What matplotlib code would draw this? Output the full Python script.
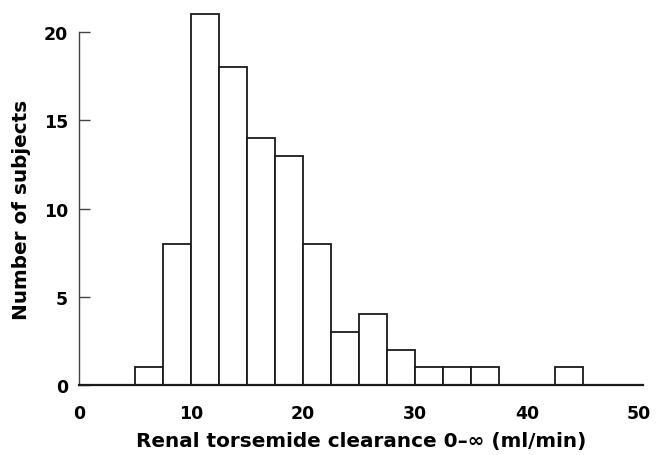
import matplotlib
matplotlib.use("Agg")
import matplotlib.pyplot as plt
import numpy as np

bin_edges = [5, 7.5, 10, 12.5, 15, 17.5, 20, 22.5, 25, 27.5, 30, 32.5, 35, 37.5, 40, 42.5, 45]
counts = [1, 8, 21, 18, 14, 13, 8, 3, 4, 2, 1, 1, 1, 0, 0, 1]
xticks = [0, 10, 20, 30, 40, 50]
yticks = [0, 5, 10, 15, 20]

plt.rcParams['font.family'] = ['DejaVu Sans']
fig = plt.figure(figsize=(6.58, 4.56), dpi=100)
ax = fig.add_axes([0.120, 0.1535, 0.857, 0.774])

lefts = bin_edges[:-1]
widths = np.diff(bin_edges)
for l, w, c in zip(lefts, widths, counts):
    if c > 0:
        ax.bar(l, c, width=w, align='edge', facecolor='white', edgecolor='#1a1a1a',
               linewidth=1.3, clip_on=False, zorder=2)

ax.set_xlim(0, 50.35)
ax.set_ylim(0, 20)
ax.spines['top'].set_visible(False)
ax.spines['right'].set_visible(False)
ax.spines['left'].set_linewidth(1.0)
ax.spines['left'].set_color('#444444')
ax.spines['bottom'].set_linewidth(1.6)
ax.spines['bottom'].set_color('#1a1a1a')
ax.spines['bottom'].set_zorder(3)

ax.set_xticks(xticks)
ax.set_yticks(yticks)
ax.tick_params(axis='x', length=0, pad=14, labelsize=12.5)
ax.tick_params(axis='y', direction='in', length=8, width=1.0, color='#444444', pad=8, labelsize=12.5)
for lab in ax.get_xticklabels() + ax.get_yticklabels():
    lab.set_fontweight('bold')

ax.set_xlabel('Renal torsemide clearance 0–∞ (ml/min)', fontsize=14.4, fontweight='bold', labelpad=6)
ax.set_ylabel('Number of subjects', fontsize=14.4, fontweight='bold', labelpad=9)

fig.savefig('out.png', dpi=100)
